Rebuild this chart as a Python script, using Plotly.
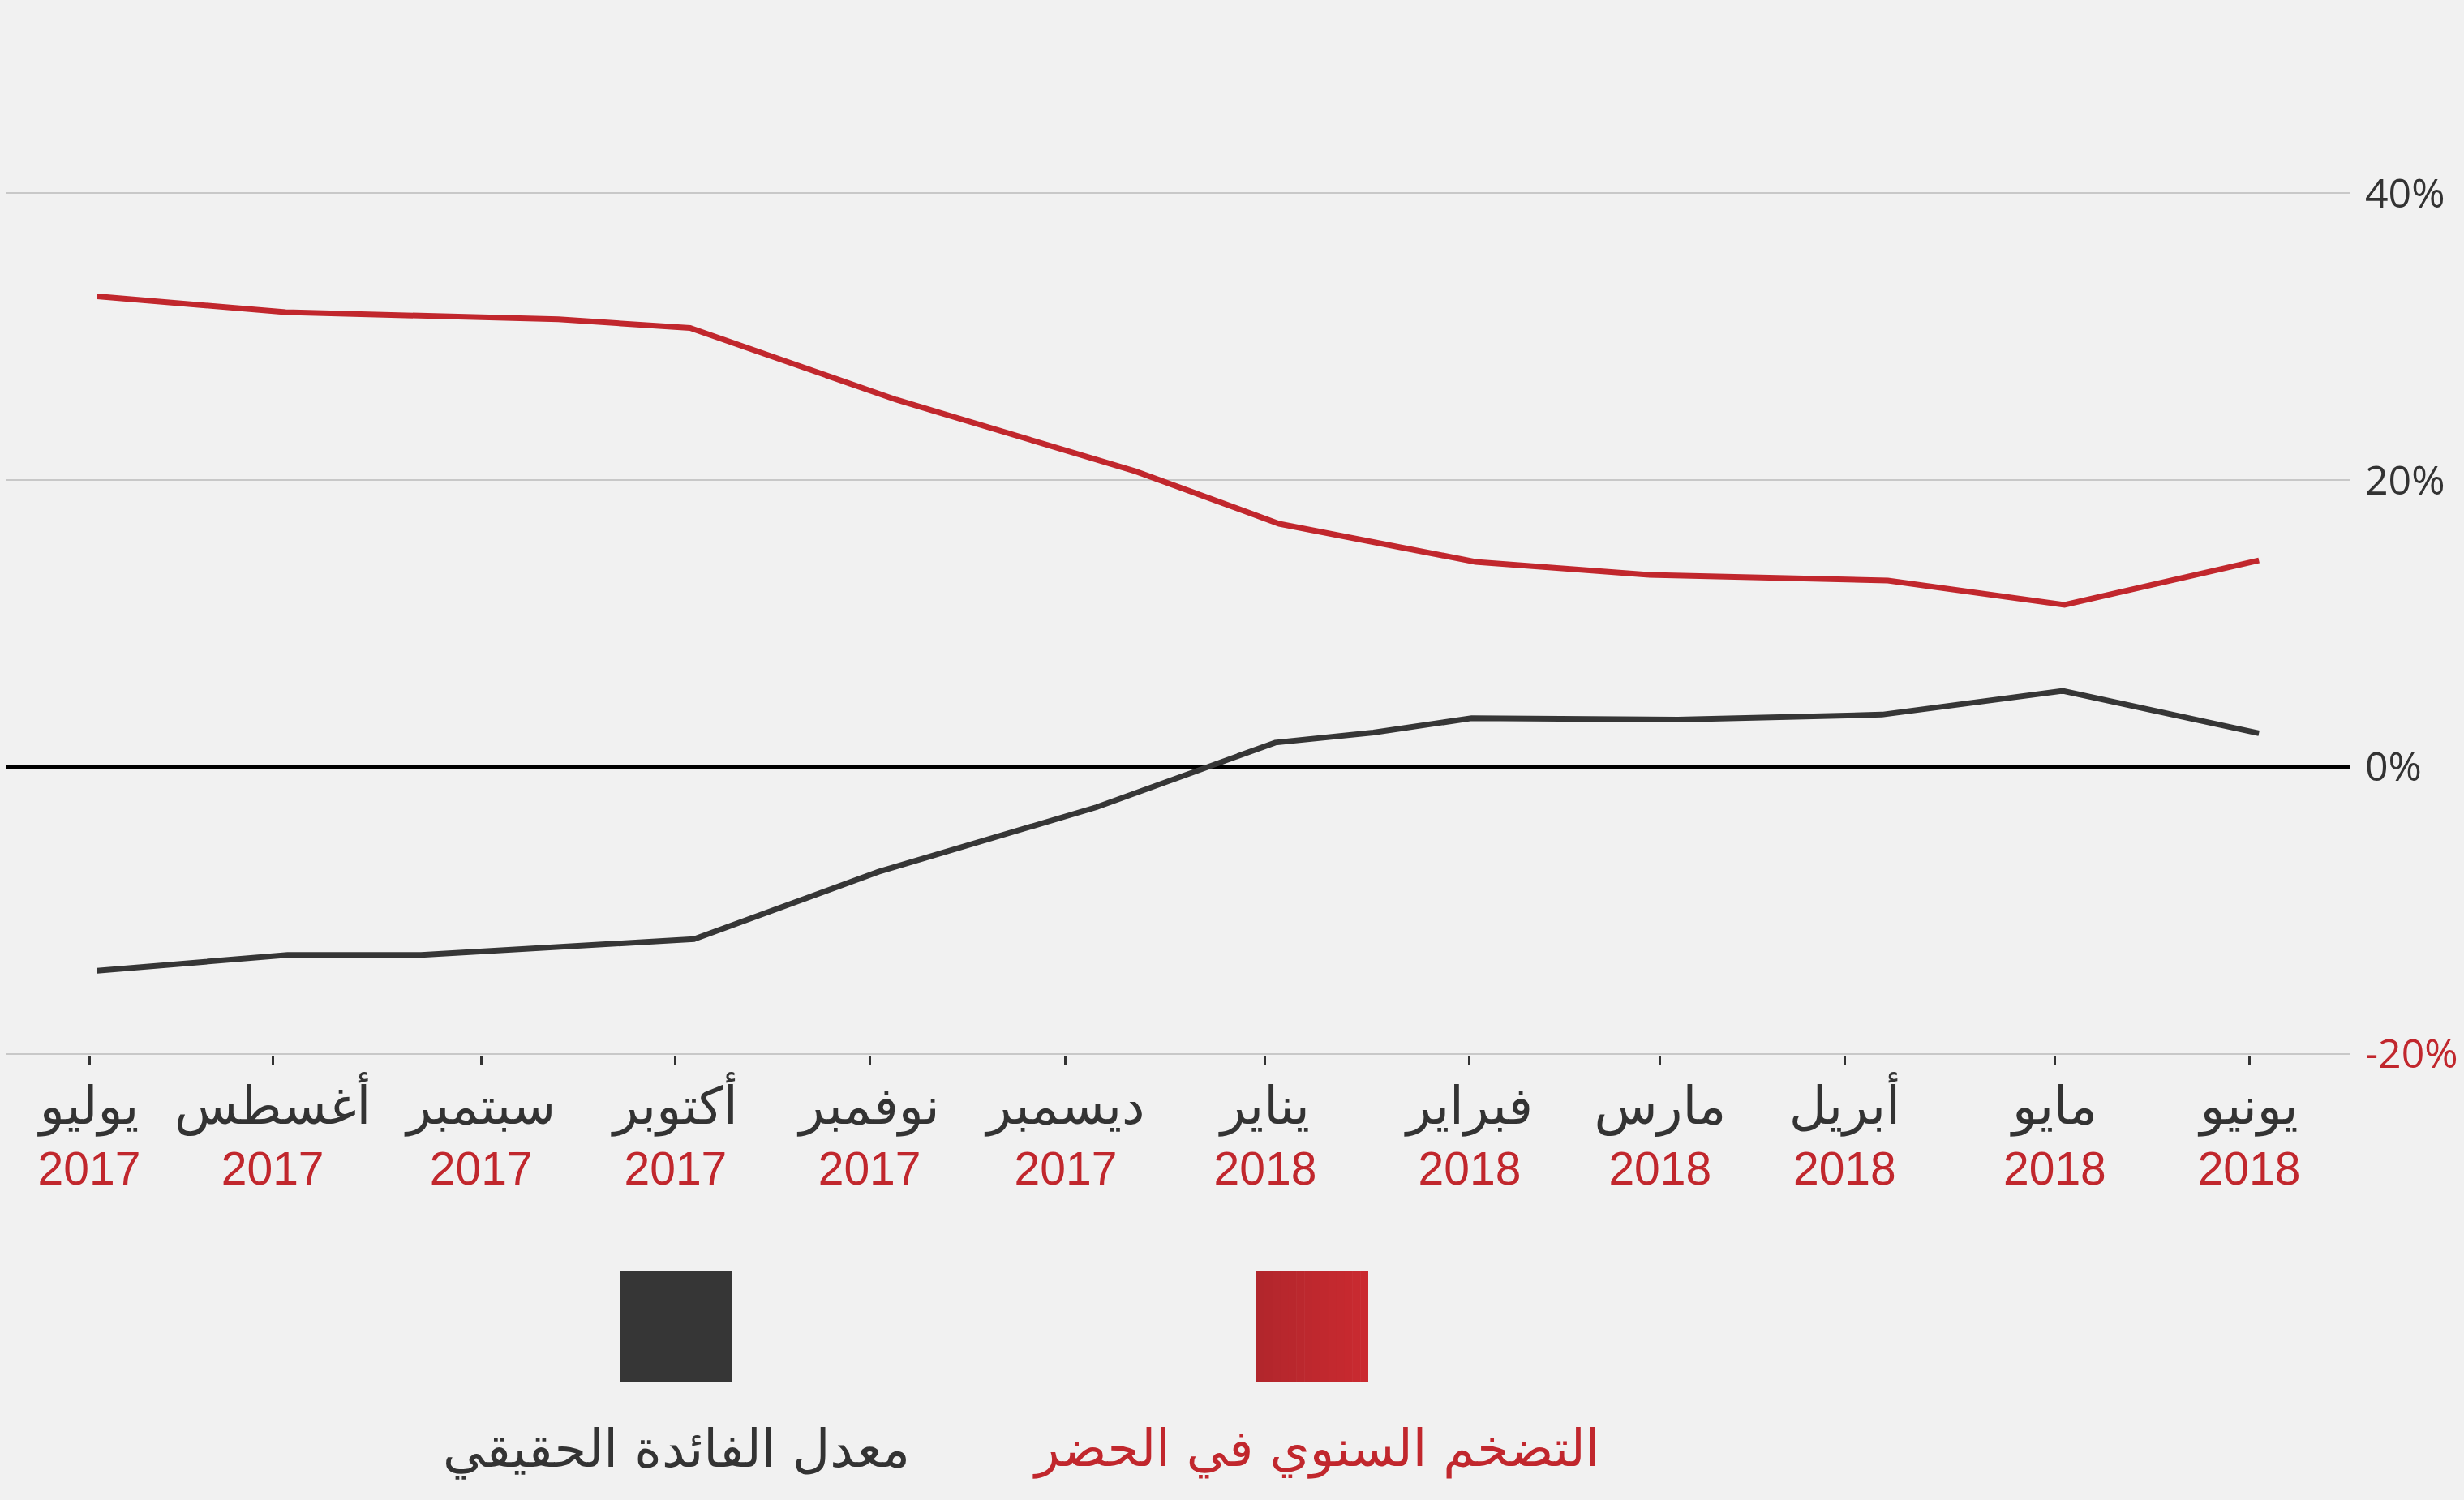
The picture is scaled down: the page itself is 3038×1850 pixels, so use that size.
import plotly.graph_objects as go

# ---------------- data ----------------
months_ar = ["يوليو", "أغسطس", "سبتمبر", "أكتوبر", "نوفمبر", "ديسمبر",
             "يناير", "فبراير", "مارس", "أبريل", "مايو", "يونيو"]
years = ["2017", "2017", "2017", "2017", "2017", "2017",
         "2018", "2018", "2018", "2018", "2018", "2018"]
# month index positions of the ticks (0 = July 2017)
tick_pos = [0, 0.934, 1.996, 2.986, 3.974, 4.973, 5.989, 7.03, 8.0, 8.94, 10.01, 11.0]

# annual urban inflation (%)
infl_x = [0.04, 1.0, 2.39, 3.06, 4.11, 5.33, 6.06, 7.06, 7.93, 9.16, 10.06, 11.05]
infl_y = [32.8, 31.7, 31.2, 30.6, 25.6, 20.6, 16.95, 14.3, 13.4, 13.0, 11.3, 14.4]

# real interest rate (%)
real_x = [0.04, 1.01, 1.69, 2.40, 3.08, 4.02, 5.13, 6.04, 6.54, 7.04, 8.09, 9.13, 10.05, 11.05]
real_y = [-14.2, -13.1, -13.1, -12.5, -12.0, -7.3, -2.8, 1.7, 2.4, 3.4, 3.3, 3.65, 5.3, 2.35]

y_ticks = [-20, 0, 20, 40]
y_ticktext = ["<span style='color:#c1272d'>-20%</span>", "0%", "20%", "40%"]

legend_labels = ["معدل الفائدة الحقيقي", "التضخم السنوي في الحضر"]

# ---------------- styling ----------------
BG = "#f1f1f1"
RED = "#c1272d"
DARK = "#363636"
W, H = 3038, 1850
L, R, T, B = 7, 140, 236, 548
Y_RANGE = [-20.12, 40.12]


def px_x(px):
    return (px - L) / (W - L - R)


def px_y(py):
    return (H - B - py) / (H - T - B)


fig = go.Figure()
fig.add_trace(go.Scatter(x=infl_x, y=infl_y, mode="lines",
                         line=dict(color=RED, width=7), name=legend_labels[1],
                         showlegend=False))
fig.add_trace(go.Scatter(x=real_x, y=real_y, mode="lines",
                         line=dict(color=DARK, width=7), name=legend_labels[0],
                         showlegend=False))

x_ticktext = [
    f"<span style='font-family:DejaVu Sans;font-size:64px'>{m}</span><br>"
    f"<span style='color:{RED}'>{y}</span>"
    for m, y in zip(months_ar, years)
]

fig.update_layout(
    width=W, height=H, autosize=False,
    paper_bgcolor=BG, plot_bgcolor=BG,
    margin=dict(l=L, r=R, t=T, b=B, autoexpand=False),
    showlegend=False,
    xaxis=dict(
        range=[-0.4255, 11.516], automargin=False,
        tickmode="array", tickvals=tick_pos, ticktext=x_ticktext,
        showgrid=False, zeroline=False, showline=False,
        ticks="outside", ticklen=11, tickwidth=3, tickcolor="#333333",
        tickfont=dict(family="Liberation Sans, Arial", size=57, color="#333333"),
        ticklabelstandoff=4,
    ),
    yaxis=dict(
        range=Y_RANGE, side="right", automargin=False,
        tickmode="array", tickvals=y_ticks, ticktext=y_ticktext,
        showgrid=True, gridcolor="#c8c8c8", gridwidth=2,
        zeroline=True, zerolinecolor="#000000", zerolinewidth=4.5,
        showline=False, ticks="",
        tickfont=dict(family="Open Sans, DejaVu Sans", size=50, color="#333333"),
        ticklabelstandoff=17,
    ),
)

# legend swatches
fig.add_shape(type="rect", xref="paper", yref="paper",
              x0=px_x(765), x1=px_x(903), y0=px_y(1705), y1=px_y(1567),
              fillcolor=DARK, line=dict(width=0))
n_strips = 14
x_start, x_end = 1549, 1687
c0, c1 = (178, 38, 44), (202, 42, 48)
for i in range(n_strips):
    t = i / (n_strips - 1)
    col = "rgb({},{},{})".format(*[round(a + (b - a) * t) for a, b in zip(c0, c1)])
    xa = x_start + (x_end - x_start) * i / n_strips
    xb = x_start + (x_end - x_start) * (i + 1) / n_strips + 0.6
    fig.add_shape(type="rect", xref="paper", yref="paper",
                  x0=px_x(xa), x1=px_x(min(xb, x_end)), y0=px_y(1705), y1=px_y(1567),
                  fillcolor=col, line=dict(width=0))

fig.add_annotation(text=legend_labels[0], xref="paper", yref="paper",
                   x=px_x(834), y=px_y(1787), xanchor="center", yanchor="middle",
                   showarrow=False,
                   font=dict(family="DejaVu Sans", size=64, color="#333333"))
fig.add_annotation(text=legend_labels[1], xref="paper", yref="paper",
                   x=px_x(1622), y=px_y(1787), xanchor="center", yanchor="middle",
                   showarrow=False,
                   font=dict(family="DejaVu Sans", size=63, color=RED))

fig.write_html("out.html",
               config={"displayModeBar": False},
               post_script="document.body.style.margin='0';"
                           "document.body.style.overflow='hidden';")
